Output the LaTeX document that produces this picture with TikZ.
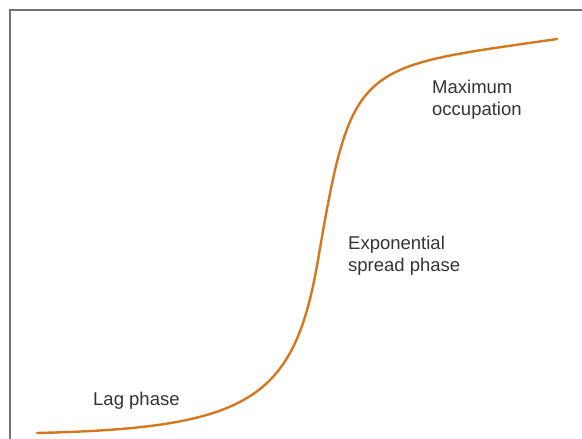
\documentclass[tikz,border=0pt]{standalone}
\usepackage{fontspec}
\setmainfont{Liberation Sans}
\usepackage{xcolor}
\usepackage{tikz}
\usetikzlibrary{positioning}
\definecolor{growthOrange}{HTML}{D4781F}
\definecolor{frameGray}{HTML}{737373}
\definecolor{labelGray}{HTML}{333333}

\begin{document}
\begin{tikzpicture}[x=1pt,y=-1pt,font=\fontsize{18.5}{21.5}\selectfont,
  phase/.style={anchor=north west,inner sep=0pt,align=left,text=labelGray}]
\useasboundingbox (0,0) rectangle (582,439);
% frame: only left and top edge are drawn
\draw[frameGray,line width=2pt] (10,439) -- (10,10) -- (582,10);
% growth curve (lag -> exponential -> plateau), inflection at (318,260)
\coordinate (start) at (37,433);
\coordinate (turn) at (318,260);
\coordinate (stop) at (557,39);
\draw[growthOrange,line width=2.4pt,line cap=round]
  (start) .. controls (250,428) and (294,400) .. (turn)
          .. controls (352,60) and (357,68) .. (stop);
% phase labels
\node[phase] (lag) at (93,392) {Lag phase};
\node[phase] (expo) at (348,236) {Exponential\\spread phase};
\node[phase] (maxocc) at (432,80) {Maximum\\occupation};
\end{tikzpicture}
\end{document}
